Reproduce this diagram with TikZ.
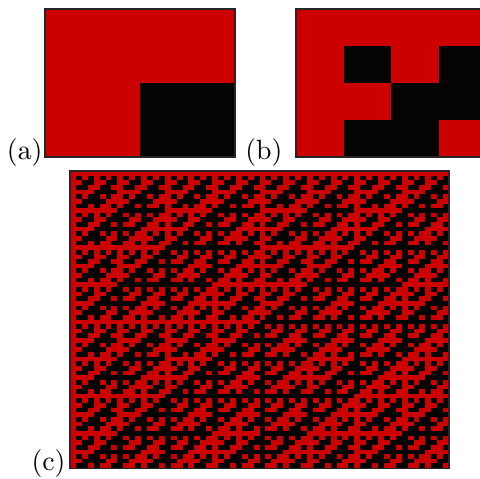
\documentclass[tikz,border=0pt]{standalone}
\definecolor{tmRed}{RGB}{204,0,0}
\definecolor{tmBlack}{RGB}{4,4,4}

% block of the 2D pattern: size, column, row, flip
\newcommand\tmblock[4]{%
  \ifnum#1=1
    \ifnum#4=1 \edef\tmx{\the\numexpr#2\relax}\edef\tmy{\the\numexpr-#3\relax}%
      \fill[cellB] (\tmx,\tmy) rectangle ++(1,-1);\fi
  \else
    \tmblock{\the\numexpr#1/2\relax}{#2}{#3}{#4}%
    \tmblock{\the\numexpr#1/2\relax}{\the\numexpr#2+#1/2\relax}{#3}{#4}%
    \tmblock{\the\numexpr#1/2\relax}{#2}{\the\numexpr#3+#1/2\relax}{#4}%
    \tmblock{\the\numexpr#1/2\relax}{\the\numexpr#2+#1/2\relax}{\the\numexpr#3+#1/2\relax}{\the\numexpr1-#4\relax}%
  \fi}

\begin{document}
\begin{tikzpicture}[x=0.36pt,y=0.36pt,
  frame/.style={draw=black!85,line width=0.4pt},
  cellB/.style={fill=tmBlack},
  lbl/.style={anchor=base east,inner sep=0pt}]
\useasboundingbox (0,0) rectangle (480,-478);
\clip (0,0) rectangle (480,-478);
% (a) seed
\begin{scope}[shift={(45,-9)},x=34.2pt,y=26.64pt]
  \fill[tmRed] (0,0) rectangle (2,-2);
  \tmblock{2}{0}{0}{0}
  \draw[frame] (0,0) rectangle (2,-2);
\end{scope}
% (b) second step
\begin{scope}[shift={(296,-9)},x=17.1pt,y=13.32pt]
  \fill[tmRed] (0,0) rectangle (4,-4);
  \tmblock{4}{0}{0}{0}
  \draw[frame] (0,0) rectangle (4,-4);
\end{scope}
% (c) sixth step
\begin{scope}[shift={(70,-171)},x=2.132pt,y=1.671pt]
  \fill[tmRed] (0,0) rectangle (64,-64);
  \tmblock{64}{0}{0}{0}
  \draw[frame] (0,0) rectangle (64,-64);
\end{scope}
\node[lbl] (labA) at (43,-159) {(a)};
\node[lbl] (labB) at (283,-159) {(b)};
\node[lbl] (labC) at (66,-470) {(c)};
\end{tikzpicture}
\end{document}
